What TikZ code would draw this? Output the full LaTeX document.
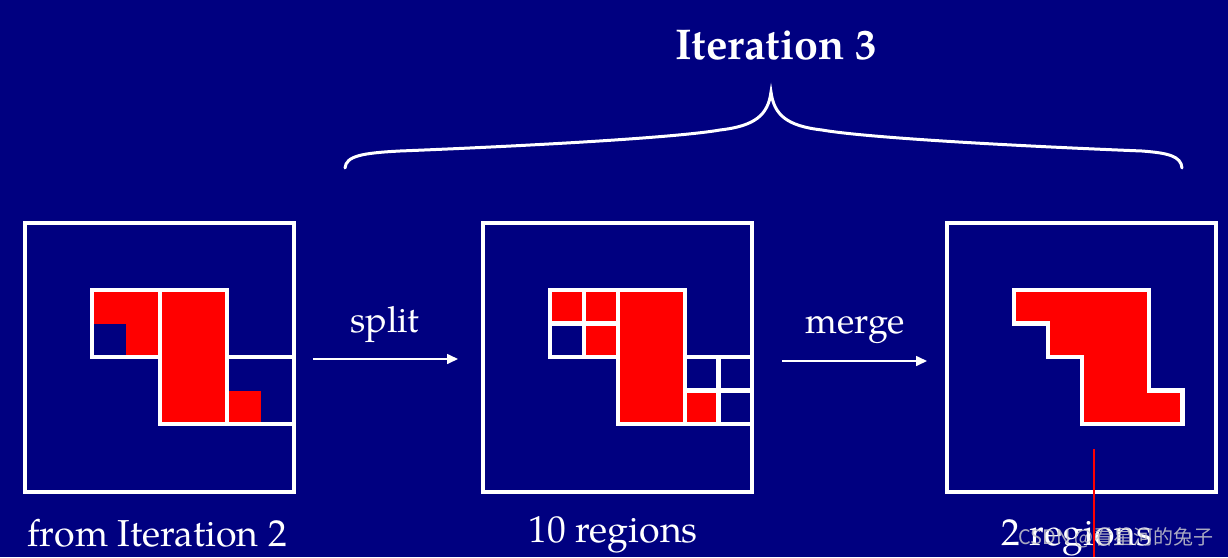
\documentclass[tikz,border=0pt]{standalone}
\usepackage{fontspec}
\setmainfont{TeX Gyre Pagella}
\newfontfamily\cjkfont{Noto Sans CJK SC}
\usetikzlibrary{arrows.meta}
\definecolor{bgnavy}{RGB}{0,0,128}
\definecolor{regred}{RGB}{255,0,0}
\definecolor{wmgrey}{RGB}{200,200,205}
\tikzset{
  outerbox/.style={draw=white, line width=4pt, minimum size=269pt, inner sep=0pt, fill=none},
  gridline/.style={draw=white, line width=4.5pt, line cap=rect},
  redfill/.style={fill=regred},
  holefill/.style={fill=bgnavy},
  flowarrow/.style={draw=white, line width=1.6pt, -{Triangle[length=11pt,width=10pt]}},
  bracestyle/.style={draw=white, line width=3pt, line cap=round},
  lbl/.style={text=white, anchor=base, inner sep=0pt, font=\fontsize{37.5}{42}\selectfont},
  oplbl/.style={text=white, anchor=base, inner sep=0pt, font=\fontsize{36}{40}\selectfont},
  titlelbl/.style={text=white, anchor=base, inner sep=0pt, font=\bfseries\fontsize{43}{46}\selectfont},
}
\begin{document}
\begin{tikzpicture}[x=1pt, y=-1pt]
\fill[bgnavy] (0,0) rectangle (1228,557);
\useasboundingbox (0,0) rectangle (1228,557);

% ---------- box 1: from Iteration 2
\begin{scope}
  \fill[redfill] (92,290) rectangle (160,357);
  \fill[holefill] (92,323.5) rectangle (126,357);
  \fill[redfill] (160,290) rectangle (227,424);
  \fill[redfill] (227,390.5) rectangle (260.5,424);
  \draw[gridline] (92,357) -- (92,290) -- (227,290) -- (227,424);
  \draw[gridline] (160,290) -- (160,424);
  \draw[gridline] (92,357) -- (160,357);
  \draw[gridline] (227,357) -- (294,357);
  \draw[gridline] (160,424) -- (294,424);
\end{scope}
\node[outerbox] (b1) at (159.5,357) {};

% ---------- box 2: after split
\begin{scope}[xshift=458pt]
  \fill[redfill] (92,290) rectangle (160,357);
  \fill[holefill] (92,323.5) rectangle (126,357);
  \fill[redfill] (160,290) rectangle (227,424);
  \fill[redfill] (227,390.5) rectangle (260.5,424);
  \draw[gridline] (92,357) -- (92,290) -- (227,290) -- (227,424);
  \draw[gridline] (160,290) -- (160,424);
  \draw[gridline] (92,357) -- (160,357);
  \draw[gridline] (227,357) -- (294,357);
  \draw[gridline] (160,424) -- (294,424);
  \draw[gridline] (126,290) -- (126,357);
  \draw[gridline] (92,323.5) -- (160,323.5);
  \draw[gridline] (260.5,357) -- (260.5,424);
  \draw[gridline] (227,390.5) -- (294,390.5);
\end{scope}
\node[outerbox] (b2) at (617.5,357) {};

% ---------- box 3: after merge
\begin{scope}[xshift=922pt]
  \filldraw[redfill, gridline, line cap=butt, line join=miter]
    (92,290) -- (227,290) -- (227,390.5) -- (260.5,390.5) -- (260.5,424)
    -- (160,424) -- (160,357) -- (126,357) -- (126,323.5) -- (92,323.5) -- cycle;
\end{scope}
\node[outerbox] (b3) at (1081.5,357) {};

% ---------- arrows and their labels
\draw[flowarrow] ([xshift=17pt,yshift=-2pt]b1.east) -- ([xshift=-23pt,yshift=-2pt]b2.west);
\draw[flowarrow] ([xshift=28pt,yshift=-4pt]b2.east) -- ([xshift=-18pt,yshift=-4pt]b3.west);
\node[oplbl] (split) at (385,332) {split};
\node[oplbl] (merge) at (855,333) {merge};

% ---------- brace and title
\draw[bracestyle] (345,168) .. controls (346,156) and (362,153) .. (400,151)
  .. controls (550,145) and (680,137) .. (720,130)
  .. controls (755,126) and (768,115) .. (771,92)
  .. controls (774,115) and (787,126) .. (822,130)
  .. controls (862,137) and (992,145) .. (1142,151)
  .. controls (1168,153) and (1181,156) .. (1182,168);
\node[titlelbl] (title) at (776,59) {Iteration 3};

% ---------- captions
\node[lbl] (c1) at (157,546) {from Iteration 2};
\node[lbl] (c2) at (613,542) {10 regions};
\node[lbl] (c3) at (1077,545) {2 regions};

% ---------- watermark and stray mark
\node[text=wmgrey, anchor=base, inner sep=0pt, font=\cjkfont\fontsize{20}{22}\selectfont, opacity=0.85] (wm) at (1116,544) {CSDN @看星河的兔子};
\coordinate (mtop) at (1094,449);
\coordinate (mbot) at (1094,557);
\draw[regred, line width=1.5pt] (mtop) -- (mbot);
\end{tikzpicture}
\end{document}
